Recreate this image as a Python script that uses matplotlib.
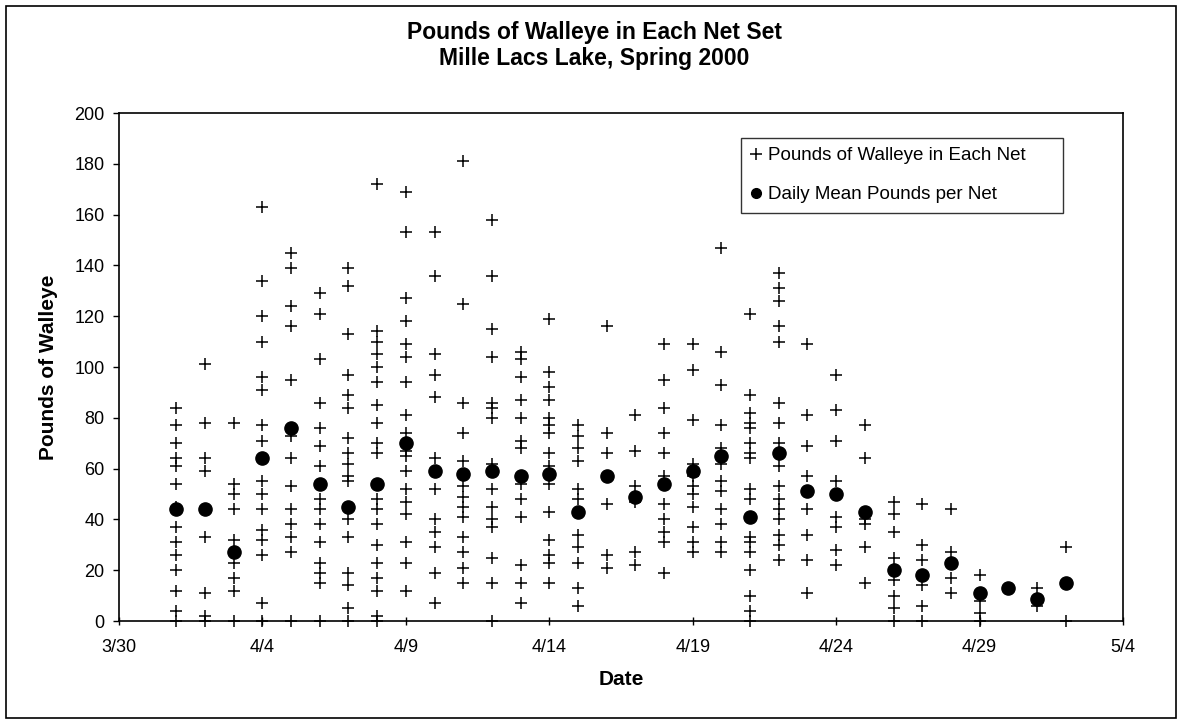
import datetime as dt
import matplotlib
matplotlib.use("Agg")
import matplotlib.pyplot as plt
import matplotlib.dates as mdates
from matplotlib.patches import Rectangle
from matplotlib.ticker import FuncFormatter

plt.rcParams['font.family'] = ['Liberation Sans', 'DejaVu Sans']

# sampling days (spring 2000)
days = ["2000-04-01", "2000-04-02", "2000-04-03", "2000-04-04", "2000-04-05",
        "2000-04-06", "2000-04-07", "2000-04-08", "2000-04-09", "2000-04-10",
        "2000-04-11", "2000-04-12", "2000-04-13", "2000-04-14", "2000-04-15",
        "2000-04-16", "2000-04-17", "2000-04-18", "2000-04-19", "2000-04-20",
        "2000-04-21", "2000-04-22", "2000-04-23", "2000-04-24", "2000-04-25",
        "2000-04-26", "2000-04-27", "2000-04-28", "2000-04-29", "2000-04-30",
        "2000-05-01", "2000-05-02"]

# pounds of walleye in each net, one list per day
net_pounds = [
    [84, 77, 70, 64, 61, 54, 45, 37, 31, 26, 20, 12, 4, 0],
    [101, 78, 64, 59, 33, 11, 2, 0],
    [78, 54, 50, 44, 32, 23, 17, 12, 0],
    [163, 134, 120, 110, 96, 91, 77, 71, 55, 50, 44, 36, 32, 26, 7, 0],
    [145, 139, 124, 116, 95, 73, 64, 53, 44, 38, 33, 27, 0],
    [129, 121, 103, 86, 76, 69, 61, 48, 44, 38, 31, 23, 19, 15, 0],
    [139, 132, 113, 97, 89, 84, 72, 66, 62, 57, 55, 40, 33, 19, 14, 5, 0],
    [172, 114, 110, 105, 100, 94, 85, 78, 70, 66, 48, 44, 38, 30, 23, 17, 12, 2, 0],
    [169, 153, 127, 118, 109, 104, 94, 81, 74, 67, 65, 59, 52, 47, 42, 31, 23, 12],
    [153, 136, 105, 97, 88, 64, 52, 40, 35, 29, 19, 7],
    [181, 125, 86, 74, 63, 53, 49, 45, 41, 33, 27, 21, 15],
    [158, 136, 115, 104, 86, 84, 80, 62, 52, 45, 40, 37, 25, 15, 0],
    [106, 103, 96, 87, 80, 71, 68, 54, 48, 41, 22, 15, 7],
    [119, 98, 92, 87, 80, 77, 74, 66, 61, 54, 43, 32, 26, 23, 15],
    [77, 73, 68, 63, 52, 48, 34, 29, 23, 13, 6],
    [116, 74, 66, 46, 26, 21],
    [81, 67, 53, 47, 27, 22],
    [109, 95, 84, 74, 66, 57, 46, 40, 35, 31, 19],
    [109, 99, 79, 62, 57, 53, 50, 45, 37, 31, 27],
    [147, 106, 93, 77, 68, 62, 55, 51, 44, 38, 31, 27],
    [121, 89, 82, 78, 76, 70, 66, 64, 52, 48, 33, 31, 27, 20, 10, 4, 0],
    [137, 131, 126, 116, 110, 86, 78, 70, 61, 53, 48, 44, 40, 34, 30, 24],
    [109, 81, 69, 57, 44, 34, 24, 11],
    [97, 83, 71, 55, 41, 37, 28, 22],
    [77, 64, 40, 38, 29, 15],
    [47, 42, 35, 25, 16, 10, 5, 0],
    [46, 30, 24, 14, 6, 0],
    [44, 27, 17, 11],
    [18, 8, 3, 0],
    [13],
    [13, 6],
    [29, 0],
]

# daily mean pounds per net
daily_mean = [44, 44, 27, 64, 76, 54, 45, 54, 70, 59, 58, 59, 57, 58, 43, 57,
              49, 54, 59, 65, 41, 66, 51, 50, 43, 20, 18, 23, 11, 13, 8.5, 15]

dates = [dt.datetime.strptime(d, "%Y-%m-%d") for d in days]
px, py = [], []
for d, vals in zip(dates, net_pounds):
    for v in vals:
        px.append(d)
        py.append(v)

fig = plt.figure(figsize=(11.81, 7.23), dpi=100)
ax = fig.add_axes([119 / 1181, 1 - 621 / 723, 1004 / 1181, 508 / 723])

ax.plot(px, py, linestyle='none', marker='+', markersize=8, mew=1.1,
        color='black', label='Pounds of Walleye in Each Net', clip_on=False)
ax.plot(dates, daily_mean, linestyle='none', marker='o', markersize=9.5,
        color='black', label='Daily Mean Pounds per Net', clip_on=False)

ax.set_xlim(dt.datetime(2000, 3, 30), dt.datetime(2000, 5, 4))
ax.set_ylim(0, 200)
ax.set_yticks(range(0, 201, 20))
ax.set_xticks([dt.datetime(2000, 3, 30) + dt.timedelta(days=5 * k) for k in range(8)])
ax.xaxis.set_major_formatter(FuncFormatter(
    lambda v, pos: "{}/{}".format(mdates.num2date(v).month, mdates.num2date(v).day)))

ax.tick_params(axis='x', direction='inout', length=6, width=1, labelsize=13, pad=10)
ax.tick_params(axis='y', direction='out', length=4.3, width=1, labelsize=13, pad=6)
for s in ax.spines.values():
    s.set_linewidth(1.2)
    s.set_color('black')

ax.set_xlabel('Date', fontsize=15, fontweight='bold', labelpad=10)
ax.set_ylabel('Pounds of Walleye', fontsize=15, fontweight='bold', labelpad=12)

fig.text(0.503, 1 - 32 / 723, 'Pounds of Walleye in Each Net Set', ha='center',
         va='center', fontsize=16.5, fontweight='bold')
fig.text(0.503, 1 - 59 / 723, 'Mille Lacs Lake, Spring 2000', ha='center',
         va='center', fontsize=16.5, fontweight='bold')

leg = ax.legend(loc='upper left',
                bbox_to_anchor=((741 - 119) / 1004, (621 - 217) / 508,
                                (1063 - 741) / 1004, (217 - 138) / 508),
                mode='expand', frameon=True, fancybox=False, edgecolor='black',
                fontsize=13.5, handletextpad=0.35, handlelength=0.6,
                labelspacing=1.15, borderpad=0.5, borderaxespad=0)
leg.get_frame().set_linewidth(1.0)
leg.legend_handles[1].set_markersize(7)

fig.patches.append(Rectangle((6 / 1181, 5 / 723), 1170 / 1181, 712 / 723,
                             transform=fig.transFigure, fill=False,
                             edgecolor='black', linewidth=1.2))

fig.savefig('out.png', dpi=100)
